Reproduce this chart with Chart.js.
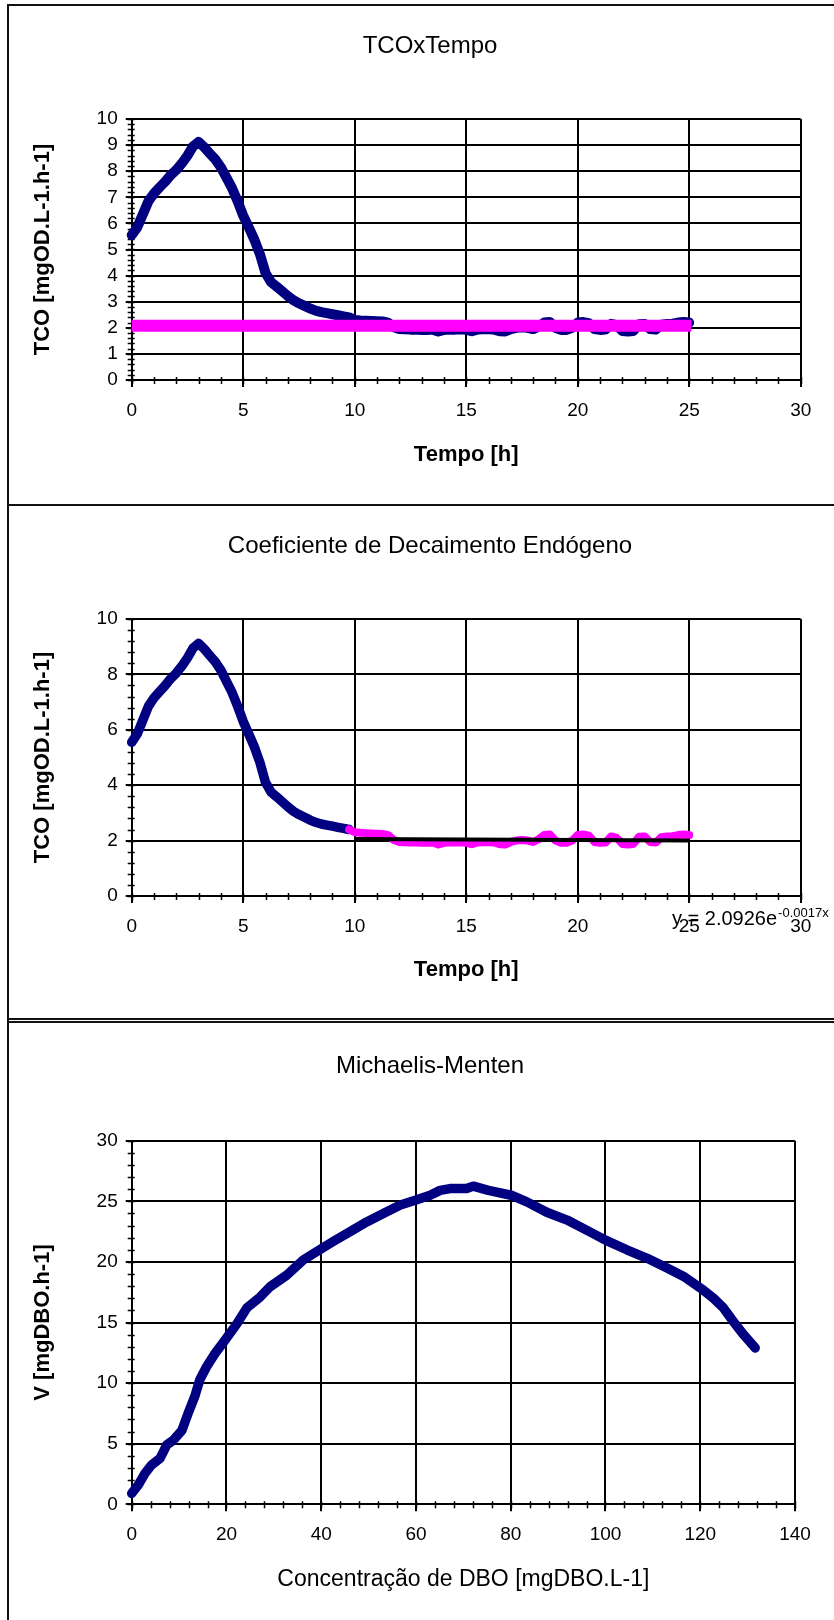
<!DOCTYPE html>
<html>
<head>
<meta charset="utf-8">
<script src="https://cdn.jsdelivr.net/npm/chart.js@4.4.1/dist/chart.umd.min.js"></script>
<style>
html,body{margin:0;padding:0;width:834px;height:1620px;overflow:hidden;background:#fff;}
.cv{position:absolute;left:0;}
.hl{position:absolute;left:7px;width:900px;height:2px;background:#111;}
.vl{position:absolute;left:7px;top:4px;width:2px;height:1700px;background:#111;}
</style>
</head>
<body>
<div class="hl" style="top:4px"></div>
<div class="hl" style="top:504px"></div>
<div class="hl" style="top:1018px"></div>
<div class="hl" style="top:1021px"></div>
<div class="vl"></div>
<canvas id="c1" class="cv" style="top:6px" width="850" height="498"></canvas>
<canvas id="c2" class="cv" style="top:506px" width="850" height="512"></canvas>
<canvas id="c3" class="cv" style="top:1023px" width="850" height="597"></canvas>
<script>
// ---------------- data ----------------
const tempoHours = [0,0.25,0.5,0.75,1,1.25,1.5,1.75,2,2.25,2.5,2.75,3,3.25,3.5,3.75,4,4.25,4.5,4.75,
  5,5.25,5.5,5.75,6,6.25,6.5,6.75,7,7.25,7.5,7.75,8,8.25,8.5,8.75,9,9.25,9.5,9.75,
  10,10.25,10.5,10.75,11,11.25,11.5,11.75,12,12.25,12.5,12.75,13,13.25,13.5,13.75,14,14.25,14.5,14.75,
  15,15.25,15.5,15.75,16,16.25,16.5,16.75,17,17.25,17.5,17.75,18,18.25,18.5,18.75,19,19.25,19.5,19.75,
  20,20.25,20.5,20.75,21,21.25,21.5,21.75,22,22.25,22.5,22.75,23,23.25,23.5,23.75,24,24.25,24.5,24.75,25];
const tcoValues = [5.55,5.85,6.35,6.85,7.15,7.38,7.6,7.85,8.05,8.3,8.6,8.95,9.12,8.92,8.68,8.45,8.15,7.75,7.35,6.85,
  6.3,5.85,5.38,4.82,4.1,3.75,3.58,3.4,3.22,3.06,2.94,2.84,2.74,2.66,2.6,2.56,2.52,2.48,2.44,2.4,
  2.3,2.28,2.27,2.26,2.25,2.24,2.2,2.02,1.95,1.94,1.93,1.93,1.92,1.92,1.93,1.86,1.92,1.93,1.93,1.94,
  1.92,1.87,1.93,1.94,1.94,1.93,1.87,1.86,1.95,2.0,2.02,2.0,1.95,2.05,2.2,2.22,2.0,1.92,1.92,2.0,
  2.2,2.22,2.18,1.95,1.92,1.93,2.15,2.1,1.88,1.86,1.88,2.14,2.15,1.95,1.93,2.12,2.15,2.16,2.2,2.22,2.2];
// constant (mean) line of panel 1
const meanHours = [0, 25.1];
const meanValues = [2.08, 2.08];
// panel 2: endogenous phase starts here
const endogenousStart = 9.75;
// exponential trend line y = 2.0926e^-0.0017x, read at its ends
const trendHours = [10, 25];
const trendValues = [2.06, 2.0];
const trendLabel = 'y = 2.0926e';
const trendExponent = '-0.0017x';
// panel 3
const dboConc = [0,1.4,2.8,4.2,6.0,7.4,8.8,10.6,12.0,13.4,14.4,15.8,17.6,19.7,22.2,24.3,27.1,29.2,32.7,36.2,
  40.1,42.6,46.1,49.6,53.1,56.7,60.0,63.0,65.1,67.2,70.7,72.1,75.3,80.1,83.4,87.6,91.9,96.1,100.0,104.5,
  108.8,113.0,116.5,120.2,122.8,124.9,127.0,129.2,131.6];
const dboRate = [0.9,1.6,2.55,3.25,3.8,4.9,5.3,6.1,7.6,9.0,10.3,11.35,12.45,13.55,14.9,16.2,17.1,17.95,18.9,20.15,
  21.1,21.7,22.5,23.3,24.0,24.7,25.1,25.5,25.9,26.05,26.05,26.25,25.9,25.5,24.95,24.1,23.45,22.6,21.8,21.0,
  20.3,19.5,18.8,17.8,17.0,16.2,15.07,13.97,12.9];
// tick labels
const tempoTicks = [0,5,10,15,20,25,30];
const tcoTicks1 = [0,1,2,3,4,5,6,7,8,9,10];
const tcoTicks2 = [0,2,4,6,8,10];
const concTicks = [0,20,40,60,80,100,120,140];
const rateTicks = [0,5,10,15,20,25,30];

// ---------------- helpers ----------------
const pts = (xs, ys) => xs.map((x, i) => ({x, y: ys[i]}));
const allTco = pts(tempoHours, tcoValues);
const headTco = allTco.filter(p => p.x <= endogenousStart);
const tailTco = allTco.filter(p => p.x >= endogenousStart);

Chart.defaults.font.family = '"Liberation Sans", Arial, Helvetica, sans-serif';
Chart.defaults.color = '#000';

const minorTicksPlugin = {
  id: 'minorTicks',
  beforeDatasetsDraw(chart, args, opts) {
    const {ctx, chartArea: a, scales: {x, y}} = chart;
    ctx.save();
    ctx.strokeStyle = '#000';
    ctx.lineWidth = 1.5;
    ctx.beginPath();
    for (let v = x.min; v <= x.max + 1e-9; v += opts.x) {
      const px = Math.round(x.getPixelForValue(v)) + 0.5;
      ctx.moveTo(px, a.bottom - 3); ctx.lineTo(px, a.bottom + 4);
    }
    for (let v = y.min; v <= y.max + 1e-9; v += opts.y) {
      const py = Math.round(y.getPixelForValue(v)) + 0.5;
      ctx.moveTo(a.left - 4, py); ctx.lineTo(a.left + 3, py);
    }
    ctx.stroke();
    ctx.restore();
  }
};

const W = 850;
function makeChart(id, p) {
  const canvas = document.getElementById(id);
  const H = canvas.height;
  const titleSize = 24, tLH = titleSize * 1.2;
  const tTop = p.titleY - tLH / 2;
  const tBottom = p.top - tTop - tLH;
  const yTitleSize = 22, yLH = yTitleSize * 1.2;
  const padLeft = 10;
  const xLH = p.xTitleSize * 1.2;
  const xTitlePadBottom = H - p.xTitleY - xLH / 2;
  return new Chart(canvas, {
    type: 'scatter',
    data: {datasets: p.datasets},
    options: {
      responsive: false, animation: false, events: [],
      layout: {padding: {left: padLeft, right: 0, top: 0, bottom: 0}},
      plugins: {
        legend: {display: false},
        tooltip: {enabled: false},
        title: {display: true, text: p.title, color: '#000',
          font: {size: titleSize, weight: 'normal'},
          padding: {top: tTop, bottom: tBottom}},
        minorTicks: p.minor
      },
      scales: {
        x: {
          type: 'linear', position: 'bottom',
          min: p.xTicks[0], max: p.xTicks[p.xTicks.length - 1],
          afterBuildTicks: s => { s.ticks = p.xTicks.map(v => ({value: v})); },
          afterFit: s => { s.height = H - p.bottom; },
          grid: {color: '#000', lineWidth: 2, tickLength: 7, drawTicks: true},
          border: {color: '#000', width: 2},
          ticks: {font: {size: 19}, color: '#000', padding: 12, maxRotation: 0, autoSkip: false},
          title: {display: true, text: p.xTitle, color: '#000',
            font: {size: p.xTitleSize, weight: p.xTitleWeight},
            padding: {top: 0, bottom: xTitlePadBottom}}
        },
        y: {
          type: 'linear', position: 'left',
          min: p.yTicks[0], max: p.yTicks[p.yTicks.length - 1],
          afterBuildTicks: s => { s.ticks = p.yTicks.map(v => ({value: v})); },
          afterFit: s => { s.width = p.left - padLeft; },
          grid: {color: '#000', lineWidth: 2, tickLength: 6, drawTicks: true},
          border: {color: '#000', width: 2},
          ticks: {font: {size: 19}, color: '#000', padding: 8, autoSkip: false},
          title: {display: true, text: p.yTitle, color: '#000',
            font: {size: yTitleSize, weight: 'bold'},
            padding: {top: p.yTitleX - padLeft - yLH / 2, bottom: 0}}
        },
        yR: {
          type: 'linear', position: 'right', min: 0, max: 1, display: true,
          grid: {display: false}, border: {display: false}, ticks: {display: false},
          afterFit: s => { s.width = W - p.right; }
        }
      }
    },
    plugins: [minorTicksPlugin].concat(p.extra || [])
  });
}

const line = (data, color, width, extra) => Object.assign({
  data, showLine: true, pointRadius: 0, borderColor: color, backgroundColor: color,
  borderWidth: width, borderJoinStyle: 'round', borderCapStyle: 'round', tension: 0,
  clip: false, yAxisID: 'y', xAxisID: 'x'
}, extra || {});

// Panel 1
makeChart('c1', {
  title: 'TCOxTempo', titleY: 40, top: 113, bottom: 374, left: 131.7, right: 800.7,
  xTitle: 'Tempo [h]', xTitleSize: 22, xTitleWeight: 'bold', xTitleY: 449,
  yTitle: 'TCO [mgOD.L-1.h-1]', yTitleX: 43,
  xTicks: tempoTicks, yTicks: tcoTicks1, minor: {x: 1, y: 0.2},
  datasets: [
    line(pts(meanHours, meanValues), '#FF00FF', 12, {borderCapStyle: 'butt'}),
    line(allTco, '#000080', 10)
  ]
});

// Panel 2
const equationPlugin = {
  id: 'equation',
  afterDraw(chart) {
    const ctx = chart.ctx;
    ctx.save();
    ctx.fillStyle = '#000';
    ctx.textBaseline = 'alphabetic';
    ctx.textAlign = 'left';
    ctx.font = '20px "Liberation Sans", Arial, sans-serif';
    const x0 = 672, base = 419;
    ctx.fillText(trendLabel, x0, base);
    const w = ctx.measureText(trendLabel).width;
    ctx.font = '13px "Liberation Sans", Arial, sans-serif';
    ctx.fillText(trendExponent, x0 + w + 1, base - 8);
    ctx.restore();
  }
};
makeChart('c2', {
  title: 'Coeficiente de Decaimento Endógeno', titleY: 40, top: 113, bottom: 390, left: 131.7, right: 800.7,
  xTitle: 'Tempo [h]', xTitleSize: 22, xTitleWeight: 'bold', xTitleY: 464,
  yTitle: 'TCO [mgOD.L-1.h-1]', yTitleX: 43,
  xTicks: tempoTicks, yTicks: tcoTicks2, minor: {x: 1, y: 0.4},
  extra: [equationPlugin],
  datasets: [
    line(pts(trendHours, trendValues), '#000000', 4, {borderCapStyle: 'butt'}),
    line(tailTco, '#FF00FF', 8),
    line(headTco, '#000080', 9.5)
  ]
});

// Panel 3
makeChart('c3', {
  title: 'Michaelis-Menten', titleY: 43, top: 117.7, bottom: 481.3, left: 131.7, right: 795,
  xTitle: 'Concentração de DBO [mgDBO.L-1]', xTitleSize: 23, xTitleWeight: 'normal', xTitleY: 557,
  yTitle: 'V [mgDBO.h-1]', yTitleX: 43,
  xTicks: concTicks, yTicks: rateTicks, minor: {x: 4, y: 1},
  datasets: [
    line(pts(dboConc, dboRate), '#000080', 9.5)
  ]
});
</script>
</body>
</html>
